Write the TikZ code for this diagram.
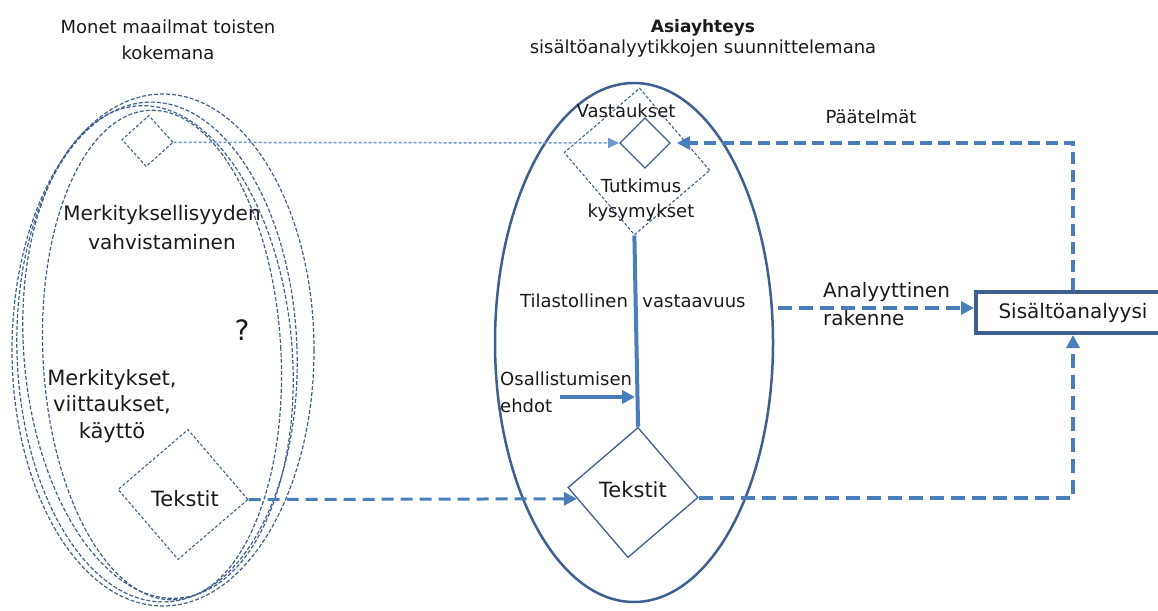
\documentclass[tikz,border=0pt]{standalone}
\usepackage{fontspec}
\setmainfont{DejaVu Sans}
\usetikzlibrary{arrows.meta,calc,shapes.geometric}
\definecolor{ell}{HTML}{3E5F8F}
\definecolor{lnk}{HTML}{4A7EBB}
\definecolor{lnklight}{HTML}{6F97CC}
\definecolor{txt}{HTML}{1A1A1A}
\newcommand\fsz[2]{\fontsize{#1}{#2}\selectfont}
\begin{document}
\begin{tikzpicture}[x=1pt,y=-1pt,
  lbl/.style={text=txt, inner sep=0pt, align=center},
  dashell/.style={ellipse, draw=ell, line width=1.2pt, dash pattern=on 4pt off 2pt, inner sep=0pt},
  sqr/.style={rectangle, inner sep=0pt},
  finedash/.style={dash pattern=on 3pt off 2pt},
  tip/.style={-{Triangle[length=13pt,width=13pt]}},
  smalltip/.style={-{Triangle[length=11pt,width=10pt]}}
]
\useasboundingbox (0,0) rectangle (1158,610);

% left group of ellipses
\node[dashell, minimum width=302, minimum height=512] (e1) at (163,350) {};
\node[dashell, minimum width=280, minimum height=500, rotate=2] (e2) at (157,352) {};
\node[dashell, minimum width=268, minimum height=494, rotate=5] (e3) at (158,352) {};
\node[dashell, minimum width=238, minimum height=490, rotate=3] (e4) at (162,355) {};

% central ellipse
\node[ellipse, draw=ell, line width=2.5pt, minimum width=278, minimum height=519, inner sep=0pt] (ce) at (634,342.5) {};

% titles
\node[lbl, font=\fsz{18}{26}] (t1) at (168,40) {Monet maailmat toisten\\kokemana};
\node[lbl, font=\fsz{18}{21}] (t2) at (703,38) {{\bfseries\fsz{17}{21}Asiayhteys}\\sisältöanalyytikkojen suunnittelemana};

% left texts
\node[lbl, font=\fsz{20}{29}] (mv) at (162,228) {Merkityksellisyyden\\vahvistaminen};
\node[lbl, font=\fsz{28}{30}] (q) at (242,330) {?};
\node[lbl, font=\fsz{21}{26.5}] (mk) at (112,406) {Merkitykset,\\viittaukset,\\käyttö};

% left diamonds
\node[sqr, draw=ell, line width=1.1pt, finedash, minimum size=36, rotate=-48] (lsD) at (147.5,141) {};
\node[sqr, draw=ell, line width=1.1pt, finedash, minimum size=92, rotate=-49.4] (lT) at (183,494.5) {};
\node[lbl, font=\fsz{21}{24}] (lTt) at (185,499) {Tekstit};

% central diamonds
\node[sqr, draw=ell, line width=1.1pt, finedash, minimum width=108, minimum height=99, rotate=-49.5] (bD) at (637,161.5) {};
\node[sqr, draw=ell, line width=1.3pt, minimum size=35.4, rotate=-45] (sD) at (645,143) {};
\node[lbl, font=\fsz{18}{25}] (va) at (626,111) {Vastaukset};
\node[lbl, font=\fsz{18}{25}] (tk) at (641,200) {Tutkimus\\kysymykset};
\node[lbl, font=\fsz{18}{25}] (ti) at (574,301) {Tilastollinen};
\node[lbl, font=\fsz{18}{25}] (vv) at (694,301) {vastaavuus};
\node[lbl, font=\fsz{18}{27}, align=left, anchor=west] (os) at (500,392) {Osallistumisen\\ehdot};
\node[sqr, draw=ell, line width=1.3pt, minimum size=92, rotate=-49.4] (cT) at (633,492.5) {};
\node[lbl, font=\fsz{21}{24}] (cTt) at (633,490) {Tekstit};

% right side
\node[draw=ell, line width=4pt, minimum width=194, minimum height=41, inner sep=0pt, text=txt, font=\fsz{20}{24}] (box) at (1073,312.5) {Sisältöanalyysi};
\node[lbl, font=\fsz{20}{28}, align=left, anchor=west] (an) at (823,304) {Analyyttinen\\rakenne};
\node[lbl, font=\fsz{18}{22}] (pa) at (871,117) {Päätelmät};

\coordinate (aS) at (778,308);
\coordinate (osS) at (560,397);
\coordinate (cTin) at ($(cT.south west)!0.16!(cT.south east)$);

% connectors
\draw[draw=lnklight, line width=1.5pt, finedash, smalltip] (lsD.north east) -- (sD.south west);
\draw[draw=lnk, line width=3pt, dash pattern=on 12pt off 7pt, tip] (lT.north east) -- (cTin);
\draw[draw=lnk, line width=4pt, dash pattern=on 14pt off 7pt, tip] (cT.north east) -| (box.south);
\draw[draw=lnk, line width=4pt, dash pattern=on 14pt off 7pt, tip] (aS) -- (aS -| box.west);
\draw[draw=lnk, line width=3.5pt, dash pattern=on 12pt off 6pt, tip, shorten >=6pt] (box.north) |- (sD.north east);
\draw[draw=lnk, line width=4pt] (bD.south east) -- (cT.north west);
\draw[draw=lnk, line width=4pt, tip, shorten >=3pt] (osS) -- (osS -| cT.north west);
\end{tikzpicture}
\end{document}
